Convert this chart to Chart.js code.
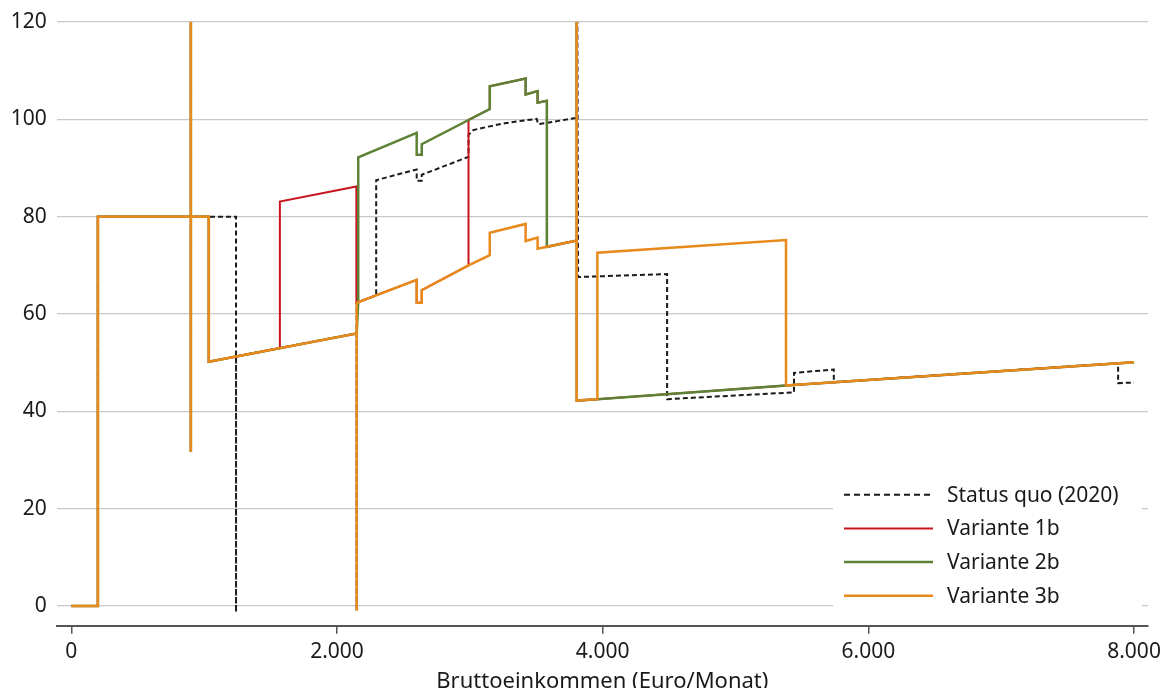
<!DOCTYPE html>
<html lang="de">
<head>
<meta charset="utf-8">
<title>Grenzbelastung</title>
<script src="https://cdn.jsdelivr.net/npm/chart.js@4/dist/chart.umd.min.js"></script>
<style>
    html, body { margin: 0; padding: 0; background: #fff; }
    #wrap { width: 1164px; height: 688px; position: relative; }
</style>
</head>
<body>
<div id="wrap"><canvas id="grenzChart"></canvas></div>
<script>
// Achsen
const xTicks = [0, 2000, 4000, 6000, 8000];
const xTickLabels = ['0', '2.000', '4.000', '6.000', '8.000'];
const yTicks = [0, 20, 40, 60, 80, 100, 120];
const seriesNames = ['Status quo (2020)', 'Variante 1b', 'Variante 2b', 'Variante 3b'];

// Status quo (2020)
const sqX = [0, 200, 200, 1240, 1240, 1240, 2148, 2148, 2148, 2295, 2295, 2600, 2600, 2638, 2638, 2990, 2990, 3026, 3139, 3265, 3391, 3503, 3515, 3805, 3805, 3815, 4485, 4485, 5440, 5440, 5740, 5740, 7880, 7880, 8000];
const sqY = [0, 0, 80, 80, -1.3, 51.3, 56.0, -1, 62.3, 63.8, 87.5, 89.7, 87.4, 87.4, 88.6, 92.3, 96.8, 97.8, 98.5, 99.2, 99.7, 100.1, 99.0, 100.3, 160, 67.6, 68.2, 42.5, 43.9, 47.9, 48.6, 46.0, 49.9, 45.8, 45.9];

// Variante 1b
const v1bX = [0, 200, 200, 900, 900, 900, 900, 1035, 1035, 1570, 1570, 2146, 2146, 2600, 2600, 2638, 2638, 2990, 2990, 3150, 3150, 3420, 3420, 3510, 3510, 3580, 3580, 3805, 3805, 3805, 3960, 5380, 8000];
const v1bY = [0, 0, 80, 80, 160, 31.7, 80, 80, 50.2, 53.0, 83.1, 86.2, 62.3, 67.0, 62.3, 62.3, 64.9, 70.0, 99.9, 102.1, 106.8, 108.4, 105.1, 105.8, 103.4, 103.8, 73.8, 75.1, 160, 42.2, 42.5, 45.3, 50.1];

// Variante 2b
const v2bX = [0, 200, 200, 900, 900, 900, 900, 1035, 1035, 2148, 2160, 2160, 2600, 2600, 2638, 2638, 3150, 3150, 3420, 3420, 3510, 3510, 3580, 3580, 3805, 3805, 3805, 3960, 5380, 8000];
const v2bY = [0, 0, 80, 80, 160, 31.7, 80, 80, 50.2, 56.0, 62.4, 92.2, 97.2, 92.7, 92.7, 94.9, 102.1, 106.8, 108.4, 105.1, 105.8, 103.4, 103.8, 73.8, 75.1, 160, 42.2, 42.5, 45.3, 50.1];

// Variante 3b
const v3bX = [0, 200, 200, 900, 900, 900, 900, 1035, 1035, 2148, 2148, 2148, 2600, 2600, 2638, 2638, 2990, 3150, 3150, 3420, 3420, 3510, 3510, 3805, 3805, 3805, 3960, 3960, 5380, 5380, 8000];
const v3bY = [0, 0, 80, 80, 160, 31.7, 80, 80, 50.2, 56.0, -1, 62.3, 67.0, 62.3, 62.3, 64.9, 70.0, 72.1, 76.7, 78.5, 75.0, 75.7, 73.4, 75.1, 160, 42.2, 42.5, 72.6, 75.2, 45.3, 50.1];

// x/y Listen zu Punkten
function toPoints(xs, ys) {
    return xs.map((x, i) => ({ x: x, y: ys[i] }));
}

// Legende unten rechts im Diagramm
const legendBox = {
    id: 'legendBox',
    afterDraw(chart) {
        const ctx = chart.ctx;
        const area = chart.chartArea;
        ctx.save();
        ctx.fillStyle = '#ffffff';
        ctx.fillRect(area.right - 315, area.bottom - 154, 309, 146);
        chart.data.datasets.forEach((ds, i) => {
            const y = area.bottom - 131 + i * 33.7;
            ctx.beginPath();
            ctx.strokeStyle = ds.borderColor;
            ctx.lineWidth = ds.borderWidth;
            ctx.setLineDash(ds.borderDash ? [6, 4] : []);
            ctx.moveTo(area.right - 304, y);
            ctx.lineTo(area.right - 215, y);
            ctx.stroke();
            ctx.setLineDash([]);
            ctx.fillStyle = '#1a1a1a';
            ctx.font = "21px 'Noto Sans', sans-serif";
            ctx.textBaseline = 'middle';
            ctx.textAlign = 'left';
            ctx.fillText(ds.label, area.right - 201, y + 1);
        });
        ctx.restore();
    }
};

document.addEventListener('DOMContentLoaded', function() {
    Chart.defaults.font.family = "'Noto Sans', sans-serif";
    Chart.defaults.font.size = 21;
    Chart.defaults.color = '#1a1a1a';

    const ctx = document.getElementById('grenzChart').getContext('2d');
    new Chart(ctx, {
        type: 'line',
        data: {
            datasets: [
                {
                    label: seriesNames[0],
                    data: toPoints(sqX, sqY),
                    borderColor: '#1a1a1a',
                    borderWidth: 2,
                    borderDash: [5, 3],
                    order: 4
                },
                {
                    label: seriesNames[1],
                    data: toPoints(v1bX, v1bY),
                    borderColor: '#c8141e',
                    borderWidth: 2,
                    order: 3
                },
                {
                    label: seriesNames[2],
                    data: toPoints(v2bX, v2bY),
                    borderColor: '#5e8235',
                    borderWidth: 2.5,
                    order: 2
                },
                {
                    label: seriesNames[3],
                    data: toPoints(v3bX, v3bY),
                    borderColor: '#e8891c',
                    borderWidth: 2.5,
                    order: 1
                }
            ]
        },
        options: {
            responsive: true,
            maintainAspectRatio: false,
            animation: false,
            elements: {
                point: { radius: 0 },
                line: { tension: 0, fill: false, borderCapStyle: 'butt' }
            },
            layout: {
                padding: { top: 22, right: 16, left: 0, bottom: 0 }
            },
            plugins: {
                legend: { display: false },
                tooltip: { enabled: false }
            },
            scales: {
                x: {
                    type: 'linear',
                    min: -110,
                    max: 8105,
                    afterBuildTicks: scale => { scale.ticks = xTicks.map(v => ({ value: v })); },
                    afterFit: scale => {
                        scale.height = 62.3;
                        scale.paddingLeft = 0;
                        scale.paddingRight = 0;
                    },
                    ticks: {
                        padding: 6,
                        maxRotation: 0,
                        callback: value => xTickLabels[xTicks.indexOf(value)]
                    },
                    grid: {
                        display: true,
                        drawOnChartArea: false,
                        drawTicks: true,
                        tickLength: 8,
                        color: '#555555',
                        lineWidth: 1.5
                    },
                    border: { display: true, color: '#555555', width: 2 },
                    title: {
                        display: true,
                        text: 'Bruttoeinkommen (Euro/Monat)',
                        font: { size: 22 },
                        padding: { top: 0, bottom: -7 }
                    }
                },
                y: {
                    min: -4.05,
                    max: 120,
                    afterBuildTicks: scale => { scale.ticks = yTicks.map(v => ({ value: v })); },
                    afterFit: scale => {
                        scale.width = 56.7;
                        scale.paddingTop = 0;
                        scale.paddingBottom = 0;
                    },
                    ticks: { padding: 10 },
                    grid: {
                        color: '#c8c8c8',
                        lineWidth: 1.3,
                        drawTicks: false
                    },
                    border: { display: false }
                }
            }
        },
        plugins: [legendBox]
    });
});
</script>
</body>
</html>
